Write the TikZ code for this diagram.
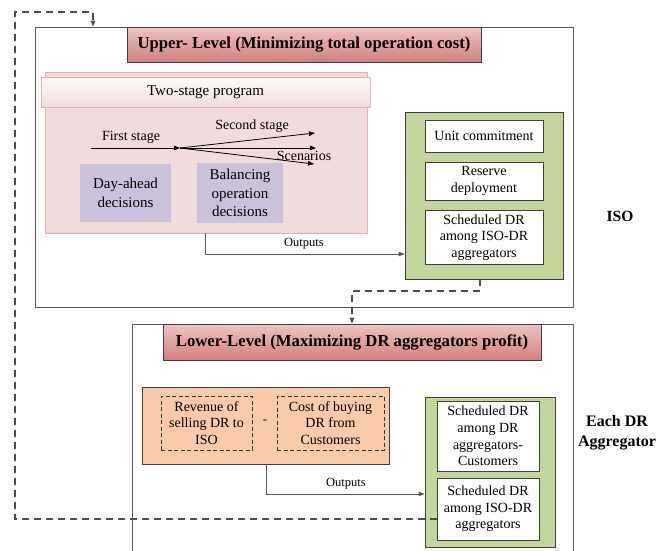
\documentclass[tikz,border=0pt]{standalone}
\usepackage{fontspec}
\setmainfont{Liberation Serif}
\usepackage[usenames]{xcolor}
\usepackage{tikz}
\usetikzlibrary{arrows.meta}

\definecolor{titletop}{HTML}{EEC4C3}
\definecolor{titlebot}{HTML}{D47F7C}
\definecolor{stagepink}{HTML}{F2DCDB}
\definecolor{stageline}{HTML}{E2B2B1}
\definecolor{decpurple}{HTML}{CCC1DA}
\definecolor{isogreen}{HTML}{C3D69B}
\definecolor{peach}{HTML}{FACBA8}
\definecolor{lineg}{HTML}{595959}

\begin{document}
\begin{tikzpicture}[x=1pt,y=-1pt,>={Triangle[length=6pt,width=4.5pt]},
    every node/.style={inner sep=0pt,align=center},
    txt/.style={font=\fontsize{14}{16.6}\selectfont},
    big/.style={font=\fontsize{15}{18.5}\selectfont},
    small/.style={font=\fontsize{12.5}{15}\selectfont},
    side/.style={font=\fontsize{16}{20}\selectfont\bfseries},
    frame/.style={draw=lineg,line width=0.8pt},
    titlebox/.style={draw=black!75,line width=0.8pt,top color=titletop,bottom color=titlebot,
        font=\fontsize{16.7}{19}\selectfont\bfseries},
    wbox/.style={draw=black!75,line width=0.8pt,fill=white,txt},
    dbox/.style={draw=black!80,line width=0.8pt,dash pattern=on 4pt off 2.5pt,txt},
    link/.style={draw=lineg,line width=0.9pt},
    fb/.style={draw=black!70,line width=1.2pt,dash pattern=on 7pt off 5pt}]
\useasboundingbox (0,0) rectangle (667,550);

% ISO (upper level)
\node[frame,minimum width=538,minimum height=280] (upper) at (304,167) {};
\node[titlebox,minimum width=354,minimum height=35] (uptitle) at (304,44.5)
    {Upper- Level (Minimizing total operation cost)};
\node[fill=stagepink,draw=stageline,minimum width=322,minimum height=161] (stage) at (206,152.5) {};
\node[draw=stageline,top color=white!95!stagepink,bottom color=stagepink,
    minimum width=329,minimum height=30,big] (stagehead) at (205.5,92)
    {Two-stage program};
\node[fill=decpurple,minimum width=91,minimum height=58,big] (dayahead) at (125.5,193)
    {Day-ahead\\decisions};
\node[fill=decpurple,minimum width=86,minimum height=60,big] (balance) at (240,193)
    {Balancing\\operation\\decisions};

\coordinate (fs) at (91,148);
\coordinate (br) at (180,148);
\coordinate (s1) at (315,133);
\coordinate (s2) at (316,148);
\coordinate (s3) at (314,164);
\draw[->,line width=0.8pt] (fs) -- (br);
\foreach \s in {s1,s2,s3}
    \draw[->,line width=0.8pt] (br) -- (\s);
\node[txt] (fslab) at (131,137) {First stage};
\node[txt] (sslab) at (252,126) {Second stage};
\node[txt] (sclab) at (304,156) {Scenarios};

\node[fill=isogreen,draw=black!75,line width=0.8pt,minimum width=158,minimum height=167] (iso) at (484,195.5) {};
\node[wbox,minimum width=118,minimum height=32] (unit) at (484,136) {Unit commitment};
\node[wbox,minimum width=118,minimum height=38] (reserve) at (484,181) {Reserve\\deployment};
\node[wbox,minimum width=118,minimum height=54] (schedup) at (484,237.5) {Scheduled DR\\among ISO-DR\\aggregators};
\node[side,font=\fontsize{15.5}{19}\selectfont\bfseries] (isolab) at (620,216) {ISO};

\coordinate (out1) at (205,254);
\draw[link,->] (stage.south -| out1) -- (out1) -- (out1 -| iso.west);
\node[small] (outlab1) at (304,244) {Outputs};

% DR aggregators (lower level)
\draw[frame] (132,551) -- (132,324) -- (573,324) -- (573,551);
\node[titlebox,minimum width=378,minimum height=36] (lowtitle) at (352,342)
    {Lower-Level (Maximizing DR aggregators profit)};
\node[fill=peach,draw=black!75,line width=0.8pt,minimum width=247,minimum height=77] (profit) at (265.5,425.5) {};
\node[dbox,minimum width=91,minimum height=54] (revenue) at (206.5,423) {Revenue of\\selling DR to\\ISO};
\node[dbox,minimum width=107,minimum height=54] (cost) at (330.5,423) {Cost of buying\\DR from\\Customers};
\node[small] (minus) at (265,422) {-};

\node[fill=isogreen,draw=black!75,line width=0.8pt,minimum width=130,minimum height=150] (agg) at (490,472) {};
\node[wbox,minimum width=102,minimum height=70] (schedcust) at (488,436) {Scheduled DR\\among DR\\aggregators-\\Customers};
\node[wbox,minimum width=102,minimum height=62] (schedlow) at (488,509) {Scheduled DR\\among ISO-DR\\aggregators};
\node[side] (agglab) at (617,433) {Each DR\\Aggregator};

\coordinate (out2) at (266,494);
\draw[link,->] (profit.south -| out2) -- (out2) -- (out2 -| agg.west);
\node[small] (outlab2) at (346,484) {Outputs};

% dashed links between the levels
\coordinate (dn) at (480,291);
\draw[fb,->] (iso.south -| dn) -- (dn) -| (lowtitle.north);
\coordinate (fbA) at (15,519);
\coordinate (fbB) at (15,12);
\coordinate (fbC) at (93,12);
\draw[fb,->] (schedlow.west |- fbA) -- (fbA) -- (fbB) -- (fbC) -- (fbC |- upper.north);
\end{tikzpicture}
\end{document}
